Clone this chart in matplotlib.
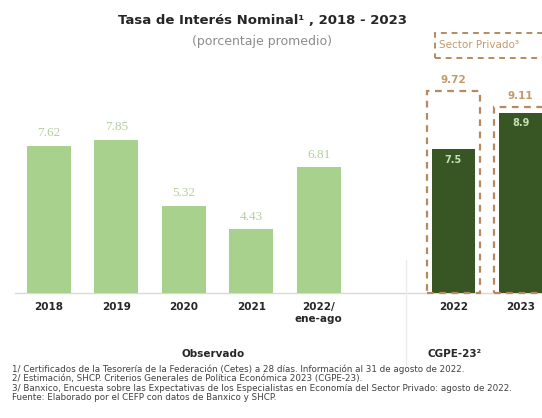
import matplotlib
matplotlib.use("Agg")
import matplotlib.pyplot as plt
from matplotlib.patches import Rectangle

plt.rcParams['font.family'] = ['DejaVu Sans']

# observed
obs_labels = ['2018', '2019', '2020', '2021', '2022/\nene-ago']
obs_values = [7.62, 7.85, 5.32, 4.43, 6.81]
# CGPE-23 estimates and private sector survey
cgpe_labels = ['2022', '2023']
cgpe_values = [7.5, 8.9]
private_values = [9.72, 9.11]

footnotes = [
    "1/ Certificados de la Tesorería de la Federación (Cetes) a 28 días. Información al 31 de agosto de 2022.",
    "2/ Estimación, SHCP. Criterios Generales de Política Económica 2023 (CGPE-23).",
    "3/ Banxico, Encuesta sobre las Expectativas de los Especialistas en Economía del Sector Privado: agosto de 2022.",
    "Fuente: Elaborado por el CEFP con datos de Banxico y SHCP.",
]

LIGHT = '#A9D18E'
DARK = '#375623'
TAN = '#C49A6C'
DASH = '#B58A60'
TXT = '#262626'
W, H = 542, 418

fig = plt.figure(figsize=(W / 100, H / 100), dpi=100)
# axes: baseline at y=292.6 px, top at 40 px; 26.1 px per unit, starting at 2
ax = fig.add_axes([0, (H - 292.6) / H, 1, 252.6 / H])
ymin = 2.0
ax.set_ylim(ymin, ymin + 252.6 / 26.1)
ax.set_xlim(-49 / 67.4, (W - 49) / 67.4)
for s in ax.spines.values():
    s.set_visible(False)
ax.set_yticks([])

obs_x = list(range(len(obs_values)))
cgpe_x = [6, 7]

ax.bar(obs_x, obs_values, width=0.65, color=LIGHT, zorder=2)
for x, v in zip(obs_x, obs_values):
    ax.text(x, v + 0.25, f"{v:.2f}", ha='center', va='bottom', fontsize=9.5,
            color='#B5CFA0', family='Liberation Serif')

ax.bar(cgpe_x, cgpe_values, width=0.64, color=DARK, zorder=2)
for x, v in zip(cgpe_x, cgpe_values):
    ax.text(x, v - 0.22, f"{v}", ha='center', va='top', fontsize=7,
            color='#C5E0B4', fontweight='bold')

ax.bar(cgpe_x, [v - ymin for v in private_values], bottom=ymin, width=0.79,
       fill=False, edgecolor=DASH, linestyle=(0, (3, 2.5)), linewidth=1.6,
       zorder=3, clip_on=False)
for x, v in zip(cgpe_x, private_values):
    ax.text(x, v + 0.25, f"{v:.2f}", ha='center', va='bottom', fontsize=7.5,
            color=TAN, fontweight='bold')

# baseline and separator
ax.plot([-0.5, 7.5], [ymin, ymin], color='#D9D9D9', lw=1, clip_on=False, zorder=1)
ax.plot([5.3, 5.3], [ymin - 2.77, ymin + 1.25], color='#EBEBEB', lw=1,
        clip_on=False, zorder=1)

ax.set_xticks(obs_x + cgpe_x, obs_labels + cgpe_labels, fontsize=7.5,
              fontweight='bold', color=TXT)
ax.tick_params(axis='x', length=0, pad=7)

# group labels
fig.text(213 / W, 1 - 354 / H, "Observado", ha='center', va='center',
         fontsize=7.5, fontweight='bold', color=TXT)
fig.text(455 / W, 1 - 354 / H, "CGPE-23²", ha='center', va='center',
         fontsize=7.5, fontweight='bold', color=TXT)

# titles
fig.text(262 / W, 1 - 21 / H, "Tasa de Interés Nominal¹ , 2018 - 2023",
         ha='center', va='center', fontsize=9.5, fontweight='bold', color=TXT)
fig.text(262 / W, 1 - 41 / H, "(porcentaje promedio)", ha='center',
         va='center', fontsize=9, color='#8C8C8C')

fig.add_artist(Rectangle((435 / W, 1 - 58 / H), 130 / W, 25 / H,
                         transform=fig.transFigure, fill=False, edgecolor=DASH,
                         linestyle=(0, (3, 2.5)), linewidth=1.4, clip_on=False))
fig.text(439 / W, 1 - 45.5 / H, "Sector Privado³", ha='left', va='center',
         fontsize=7.5, color=TAN)

for i, line in enumerate(footnotes):
    fig.text(12 / W, 1 - (369 + 9.6 * i) / H, line, ha='left', va='center',
             fontsize=6.3, color='#404040')

fig.savefig('out.png', dpi=100)
